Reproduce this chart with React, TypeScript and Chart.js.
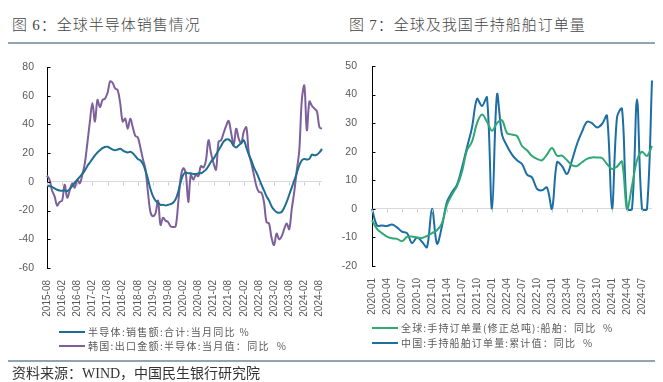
import React, { useEffect, useRef } from "react";
import { Chart, registerables } from "chart.js";

Chart.register(...registerables);

// ---------- categories ----------
function monthLabels(startYear: number, startMonth: number, count: number): string[] {
  const out: string[] = [];
  for (let k = 0; k < count; k++) {
    const t = startYear * 12 + (startMonth - 1) + k;
    const y = Math.floor(t / 12);
    const m = (t % 12) + 1;
    out.push(`${y}-${m < 10 ? "0" + m : m}`);
  }
  return out;
}

// Figure 6: 2015-08 .. 2024-09
const semiMonths = monthLabels(2015, 8, 110);
const semiLabelEvery = 6;

// 半导体:销售额:合计:当月同比 %
const semiSales = [
  -2.5, -3, -3.5, -4.5, -5.5, -6, -6.2, -6, -6.5, -5,
  -3, -0.5, 1.5, 3.5, 5.5, 8, 11, 13.5, 16, 18.5,
  20.5, 22, 23.5, 24.3, 24.5, 23.5, 22.5, 22, 22.5, 23,
  22, 21, 20.5, 21, 20, 18, 16, 15, 12.5, 8,
  2, -5, -10, -13, -14.5, -16, -16, -16.5, -16, -15.5,
  -14.5, -12, -7, 0, 5, 6.5, 6, 6, 5.5, 5.5,
  6, 6, 7, 8.5, 11, 14, 16, 19, 22, 25,
  28, 29.5, 29.5, 28, 25, 24, 25.5, 27, 29, 24,
  19, 15, 10, 6.5, 2.5, -2, -6, -10, -13, -17,
  -19.5, -21, -21.5, -21, -18, -14, -9, -4, 1, 6,
  11.5, 15, 16, 15.5, 16, 19, 18.5, 19, 20.5, 23,
];

// 韩国:出口金额:半导体:当月值:同比 %
const koreaSemiExports = [
  4.5, 1.5, -6, -10, -16.5, -14, -13, -2, -11, -6,
  -1, -4, 1.5, -1, 5, 13, 27, 42, 55, 42,
  57, 52, 57, 58, 62, 70, 69, 65, 64, 55,
  42, 44, 37, 44, 38, 32, 31, 24, 16, 9,
  -7, -21, -24, -22, -13, -30, -25, -27, -28, -31,
  -31.5, -31, -15, 3, 9.5, 6, -14, 5, 1.5, 5,
  4, 11, 10, 15, 29, 20, 13, 8.5, 28, 29,
  34, 39, 42.5, 34, 26, 37, 30, 27, 35, 38,
  20, 13, 5, -3, -7, -7.5, -14, -28, -29, -39,
  -44, -36, -40, -38, -33, -29, -33, -19, -7, 8,
  22, 57, 67, 36, 56, 53, 51, 49, 38, 37,
];

const semiYMin = -60;
const semiYMax = 80;
const semiYStep = 20;

// Figure 7: 2020-01 .. 2024-09
const shipMonths = monthLabels(2020, 1, 57);
const shipLabelEvery = 3;

// 全球:手持订单量(修正总吨):船舶:同比 %
const globalOrderbook = [
  -4, -7, -8.5, -9.7, -10.3, -10.5, -11.3, -9.8, -9.7, -10,
  -10.2, -9.5, -8.5, -7.5, -5, 1.5, 5, 8, 13, 20.5,
  23.5, 30, 33, 30.5, 27.3, 30, 31, 26.5, 26, 25.5,
  22, 20.5, 18.5, 17.5, 17, 19, 21.3, 18.6, 18.6, 17,
  15.3, 15, 16.3, 17.5, 18, 18, 17.8, 15.7, 14, 14.8,
  16.5, 0, 8, 17, 20, 18.5, 22,
];

// 中国:手持船舶订单量:累计值:同比 %
const chinaOrderbook = [
  0, -5.8, -5.8, -6, -5.5, -6.5, -8, -8.5, -12, -10,
  -11.5, -13.4, 0, -12.2, -6, 2.5, 5.8, 8.5, 14.5, 21.5,
  28.5, 38.5, 36, 39, 0, 40, 26, 22, 19, 17,
  15.7, 12, 11, 7, 6.5, 7.5, 0, 16.3, 15, 12.2,
  17, 22.7, 27, 30.5, 30, 28.5, 29.7, 32.6, 0, 32,
  35, 0, 0, 38.4, 0, 0, 44.9,
];

const shipYMin = -20;
const shipYMax = 50;
const shipYStep = 10;

// ---------- styling ----------
const TICK_COLOR = "#595959";
const CJK = "'Noto Sans CJK SC', 'Noto Sans', sans-serif";
const LATIN = "'Liberation Sans', Arial, sans-serif";

const innerTicks = {
  id: "innerTicks",
  afterDatasetsDraw(chart: any, _args: any, opts: any) {
    const { ctx, chartArea } = chart;
    const ys = chart.scales.y;
    const xs = chart.scales.x;
    ctx.save();
    ctx.lineWidth = 1;
    ctx.strokeStyle = "#000";
    const ax = Math.round(chartArea.left) + 0.5;
    ys.ticks.forEach((t: any) => {
      const py = Math.round(ys.getPixelForValue(t.value)) + 0.5;
      ctx.beginPath();
      ctx.moveTo(ax, py);
      ctx.lineTo(ax + 3, py);
      ctx.stroke();
    });
    const y0 = Math.round(ys.getPixelForValue(0)) + 0.5;
    ctx.strokeStyle = "#c8c8c8";
    const n = chart.data.labels.length;
    for (let i = 0; i < n; i += opts.every) {
      const px = Math.round(xs.getPixelForValue(i)) + 0.5;
      ctx.beginPath();
      ctx.moveTo(px, y0);
      ctx.lineTo(px, y0 + 3);
      ctx.stroke();
    }
    ctx.restore();
  },
};

type Series = { label: string; data: number[]; color: string };

type LineChartProps = {
  left: number;
  top: number;
  width: number;
  height: number;
  labels: string[];
  series: Series[];
  yMin: number;
  yMax: number;
  yStep: number;
  every: number;
  padding: { top: number; right: number; bottom: number; left: number };
  yWidth: number;
  xHeight: number;
  yPad: number;
};

function LineChart(p: LineChartProps) {
  const ref = useRef<HTMLCanvasElement>(null);
  useEffect(() => {
    const chart = new Chart(ref.current as HTMLCanvasElement, {
      type: "line",
      data: {
        labels: p.labels,
        datasets: p.series.map((s) => ({
          label: s.label,
          data: s.data,
          borderColor: s.color,
          backgroundColor: s.color,
          borderWidth: 2,
          pointRadius: 0,
          tension: 0.35,
          fill: false,
        })),
      },
      options: {
        responsive: false,
        animation: false,
        devicePixelRatio: 1,
        layout: { padding: p.padding },
        plugins: {
          legend: { display: false },
          tooltip: { enabled: false },
          innerTicks: { every: p.every },
        } as any,
        scales: {
          x: {
            type: "category",
            grid: { display: false },
            border: { display: false },
            ticks: {
              autoSkip: false,
              maxRotation: 90,
              minRotation: 90,
              padding: 4,
              color: TICK_COLOR,
              font: { family: LATIN, size: 10 },
              callback: (_v: any, i: number) => (i % p.every === 0 ? p.labels[i] : null),
            },
            afterFit: (s: any) => {
              s.height = p.xHeight;
              s.paddingLeft = 0;
              s.paddingRight = 0;
            },
          },
          y: {
            min: p.yMin,
            max: p.yMax,
            ticks: {
              stepSize: p.yStep,
              padding: p.yPad,
              color: TICK_COLOR,
              font: { family: LATIN, size: 10.5 },
            },
            grid: {
              drawTicks: false,
              lineWidth: 1,
              color: (c: any) => (c.tick && c.tick.value === 0 ? "#d9d9d9" : "rgba(0,0,0,0)"),
            },
            border: { display: true, color: "#000", width: 1 },
            afterFit: (s: any) => {
              s.width = p.yWidth;
              s.paddingTop = 0;
              s.paddingBottom = 0;
            },
          },
        },
      } as any,
      plugins: [innerTicks],
    });
    return () => chart.destroy();
  }, []);
  return (
    <canvas
      ref={ref}
      width={p.width}
      height={p.height}
      style={{ position: "absolute", left: p.left, top: p.top, width: p.width, height: p.height }}
    />
  );
}

function Legend({
  left,
  top,
  items,
  gap,
  spacing,
}: {
  left: number;
  top: number;
  items: Series[];
  gap: number;
  spacing: number;
}) {
  return (
    <>
      {items.map((s, k) => (
        <div
          key={k}
          style={{
            position: "absolute",
            left,
            top: top + k * gap,
            display: "flex",
            alignItems: "center",
            height: 14,
          }}
        >
          <div style={{ width: 26, height: 2, background: s.color, marginRight: 3 }} />
          <span
            style={{
              fontFamily: CJK,
              fontSize: 10,
              color: "#595959",
              whiteSpace: "pre",
              letterSpacing: `${spacing}px`,
              lineHeight: "14px",
            }}
          >
            {s.label}
          </span>
        </div>
      ))}
    </>
  );
}

const titleStyle: React.CSSProperties = {
  position: "absolute",
  top: 15,
  fontFamily: CJK,
  fontSize: 15,
  fontWeight: 300,
  lineHeight: "18px",
  color: "#454545",
  letterSpacing: "1px",
  whiteSpace: "pre",
};

export default function App() {
  const semiSeries: Series[] = [
    { label: "半导体:销售额:合计:当月同比 %", data: semiSales, color: "#1e6e91" },
    { label: "韩国:出口金额:半导体:当月值：同比  %", data: koreaSemiExports, color: "#7d5f9b" },
  ];
  const shipSeries: Series[] = [
    { label: "全球:手持订单量(修正总吨):船舶：同比  %", data: globalOrderbook, color: "#2fa874" },
    { label: "中国:手持船舶订单量:累计值：同比  %", data: chinaOrderbook, color: "#1d6ea5" },
  ];
  return (
    <div
      style={{
        position: "fixed",
        left: 0,
        top: 0,
        width: 663,
        height: 382,
        background: "#fff",
        overflow: "hidden",
      }}
    >
      <div style={{ ...titleStyle, left: 12 }}>
        图 <span style={{ fontFamily: "'Liberation Serif', serif" }}>6</span>：全球半导体销售情况
      </div>
      <div style={{ ...titleStyle, left: 349 }}>
        图 <span style={{ fontFamily: "'Liberation Serif', serif" }}>7</span>：全球及我国手持船舶订单量
      </div>
      <div style={{ position: "absolute", left: 8, top: 41.5, width: 647, height: 2, background: "#8fa5b4" }} />

      <LineChart
        left={0}
        top={50}
        width={335}
        height={280}
        labels={semiMonths}
        series={semiSeries}
        yMin={semiYMin}
        yMax={semiYMax}
        yStep={semiYStep}
        every={semiLabelEvery}
        padding={{ top: 17, right: 13, bottom: 6, left: 0 }}
        yWidth={47}
        xHeight={56}
        yPad={13}
      />
      <LineChart
        left={330}
        top={50}
        width={333}
        height={280}
        labels={shipMonths}
        series={shipSeries}
        yMin={shipYMin}
        yMax={shipYMax}
        yStep={shipYStep}
        every={shipLabelEvery}
        padding={{ top: 16, right: 11, bottom: 8, left: 0 }}
        yWidth={42}
        xHeight={56}
        yPad={15}
      />

      <Legend left={59} top={325} items={semiSeries} gap={13.5} spacing={1.3} />
      <Legend left={372} top={321} items={shipSeries} gap={14.5} spacing={1.15} />

      <div style={{ position: "absolute", left: 8, top: 359.5, width: 647, height: 2, background: "#8fa5b4" }} />
      <div
        style={{
          position: "absolute",
          left: 12,
          top: 364,
          fontFamily: CJK,
          fontSize: 14,
          lineHeight: "17px",
          color: "#333",
          whiteSpace: "pre",
        }}
      >
        资料来源：<span style={{ fontFamily: "'Liberation Serif', serif" }}>WIND</span>，中国民生银行研究院
      </div>
    </div>
  );
}
